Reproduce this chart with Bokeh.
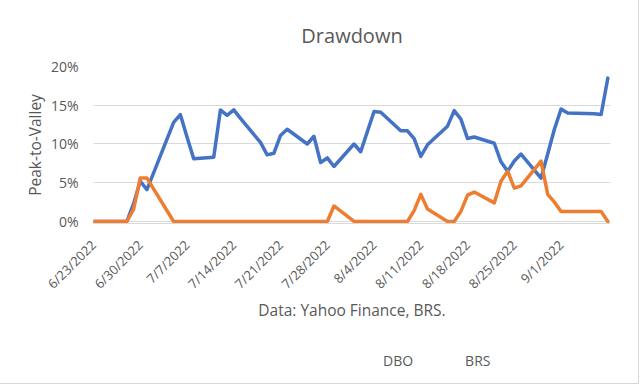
from math import pi
import pandas as pd
from bokeh.plotting import figure
from bokeh.layouts import column
from bokeh.models import FixedTicker, Legend, LegendItem, NumeralTickFormatter, Range1d
from bokeh.embed import file_html
from bokeh.resources import INLINE

# ---- data (drawdown, % peak-to-valley) ----
dates = ["2022-06-23", "2022-06-24", "2022-06-27", "2022-06-28", "2022-06-29", "2022-06-30",
         "2022-07-01", "2022-07-05", "2022-07-06", "2022-07-07", "2022-07-08", "2022-07-11",
         "2022-07-12", "2022-07-13", "2022-07-14", "2022-07-15", "2022-07-18", "2022-07-19",
         "2022-07-20", "2022-07-21", "2022-07-22", "2022-07-25", "2022-07-26", "2022-07-27",
         "2022-07-28", "2022-07-29", "2022-08-01", "2022-08-02", "2022-08-03", "2022-08-04",
         "2022-08-05", "2022-08-08", "2022-08-09", "2022-08-10", "2022-08-11", "2022-08-12",
         "2022-08-15", "2022-08-16", "2022-08-17", "2022-08-18", "2022-08-19", "2022-08-22",
         "2022-08-23", "2022-08-24", "2022-08-25", "2022-08-26", "2022-08-29", "2022-08-30",
         "2022-08-31", "2022-09-01", "2022-09-02", "2022-09-06", "2022-09-07", "2022-09-08"]
dbo = [0.0, 0.0, 0.0, 0.0, 2.3, 5.2,
       4.1, 12.8, 13.8, 10.9, 8.1, 8.3,
       14.4, 13.7, 14.4, 13.3, 10.2, 8.6,
       8.8, 11.1, 11.9, 10.0, 11.0, 7.6,
       8.2, 7.1, 10.0, 9.0, 11.6, 14.2,
       14.1, 11.7, 11.7, 10.7, 8.4, 9.9,
       12.3, 14.3, 13.2, 10.7, 10.9, 10.1,
       7.7, 6.5, 7.8, 8.7, 5.6, 8.7,
       11.9, 14.5, 14.0, 13.9, 13.8, 18.5]
brs = [0.0, 0.0, 0.0, 0.0, 1.6, 5.6,
       5.6, 0.0, 0.0, 0.0, 0.0, 0.0,
       0.0, 0.0, 0.0, 0.0, 0.0, 0.0,
       0.0, 0.0, 0.0, 0.0, 0.0, 0.0,
       0.0, 2.0, 0.0, 0.0, 0.0, 0.0,
       0.0, 0.0, 0.0, 1.4, 3.5, 1.6,
       0.0, 0.0, 1.3, 3.4, 3.8, 2.4,
       5.2, 6.5, 4.3, 4.6, 7.8, 3.5,
       2.5, 1.3, 1.3, 1.3, 1.3, 0.0]
tick_dates = ["2022-06-23", "2022-06-30", "2022-07-07", "2022-07-14", "2022-07-21", "2022-07-28",
              "2022-08-04", "2022-08-11", "2022-08-18", "2022-08-25", "2022-09-01"]
tick_labels = ["6/23/2022", "6/30/2022", "7/7/2022", "7/14/2022", "7/21/2022", "7/28/2022",
               "8/4/2022", "8/11/2022", "8/18/2022", "8/25/2022", "9/1/2022"]
y_ticks = [0.0, 0.05, 0.10, 0.15, 0.20]
series_names = ["DBO", "BRS"]
series_colors = ["#4472C4", "#ED7D31"]

start = pd.Timestamp(dates[0])
x = [(pd.Timestamp(d) - start).days for d in dates]
tx = [(pd.Timestamp(d) - start).days for d in tick_dates]
dbo_f = [v / 100 for v in dbo]
brs_f = [v / 100 for v in brs]

FONT = "Open Sans"
GREY = "#595959"
GRID = "#d9d9d9"

p = figure(frame_width=517, frame_height=157, output_backend="svg", toolbar_location=None,
           x_range=Range1d(0, 77.4), y_range=Range1d(-0.0026, 0.2),
           min_border_left=93, min_border_right=28, min_border_top=66, min_border_bottom=0,
           background_fill_color="white", border_fill_color="white")
p.outline_line_color = None

p.title.text = "Drawdown"
p.title.align = "center"
p.title.text_font = FONT
p.title.text_font_size = "20px"
p.title.text_font_style = "normal"
p.title.text_color = GREY
p.title.standoff = 36

p.line(x, dbo_f, line_color=series_colors[0], line_width=3.5, line_join="round", line_cap="round")
p.line(x, brs_f, line_color=series_colors[1], line_width=3.5, line_join="round", line_cap="round")

# y axis
p.yaxis.ticker = FixedTicker(ticks=y_ticks)
p.yaxis.formatter = NumeralTickFormatter(format="0%")
p.yaxis.axis_line_color = None
p.yaxis.major_tick_line_color = None
p.yaxis.minor_tick_line_color = None
p.yaxis.major_label_standoff = 9
p.yaxis.major_label_text_font = FONT
p.yaxis.major_label_text_font_size = "14px"
p.yaxis.major_label_text_color = GREY
p.yaxis.axis_label = "Peak-to-Valley"
p.yaxis.axis_label_text_font = FONT
p.yaxis.axis_label_text_font_size = "15.5px"
p.yaxis.axis_label_text_font_style = "normal"
p.yaxis.axis_label_text_color = GREY
p.yaxis.axis_label_standoff = 2

# x axis
p.xaxis.ticker = FixedTicker(ticks=tx)
p.xaxis.major_label_overrides = {t: lab for t, lab in zip(tx, tick_labels)}
p.xaxis.major_label_orientation = pi / 4
p.xaxis.axis_line_color = GRID
p.xaxis.major_tick_line_color = None
p.xaxis.minor_tick_line_color = None
p.xaxis.major_label_standoff = 13
p.xaxis.major_label_text_font = FONT
p.xaxis.major_label_text_font_size = "13px"
p.xaxis.major_label_text_color = GREY
p.xaxis.axis_label = "Data: Yahoo Finance, BRS."
p.xaxis.axis_label_text_font = FONT
p.xaxis.axis_label_text_font_size = "15.5px"
p.xaxis.axis_label_text_font_style = "normal"
p.xaxis.axis_label_text_color = GREY
p.xaxis.axis_label_standoff = -3

p.xgrid.grid_line_color = None
p.ygrid.grid_line_color = GRID
p.ygrid.grid_line_width = 1

# legend strip underneath the chart
pl = figure(width=638, height=60, output_backend="svg", toolbar_location=None,
            x_axis_location=None, y_axis_location=None, min_border=0,
            x_range=Range1d(0, 1), y_range=Range1d(0, 1),
            background_fill_color="white", border_fill_color="white")
pl.outline_line_color = None
pl.xgrid.visible = False
pl.ygrid.visible = False
items = []
for name, col in zip(series_names, series_colors):
    rr = pl.line(x=[], y=[], line_color=col, line_width=3.5)
    items.append(LegendItem(label=name, renderers=[rr]))

legend = Legend(items=items, orientation="horizontal", location=(250, 13))
legend.border_line_color = None
legend.background_fill_alpha = 0
legend.label_text_font = FONT
legend.label_text_font_size = "14px"
legend.label_text_color = GREY
legend.glyph_width = 37
legend.glyph_height = 14
legend.label_standoff = 3
legend.spacing = 12
legend.padding = 0
legend.margin = 0
pl.add_layout(legend, "center")

layout = column(p, pl, spacing=0, styles={"outline": "1px solid #d9d9d9"})

open("out.html", "w").write(file_html(layout, INLINE))
